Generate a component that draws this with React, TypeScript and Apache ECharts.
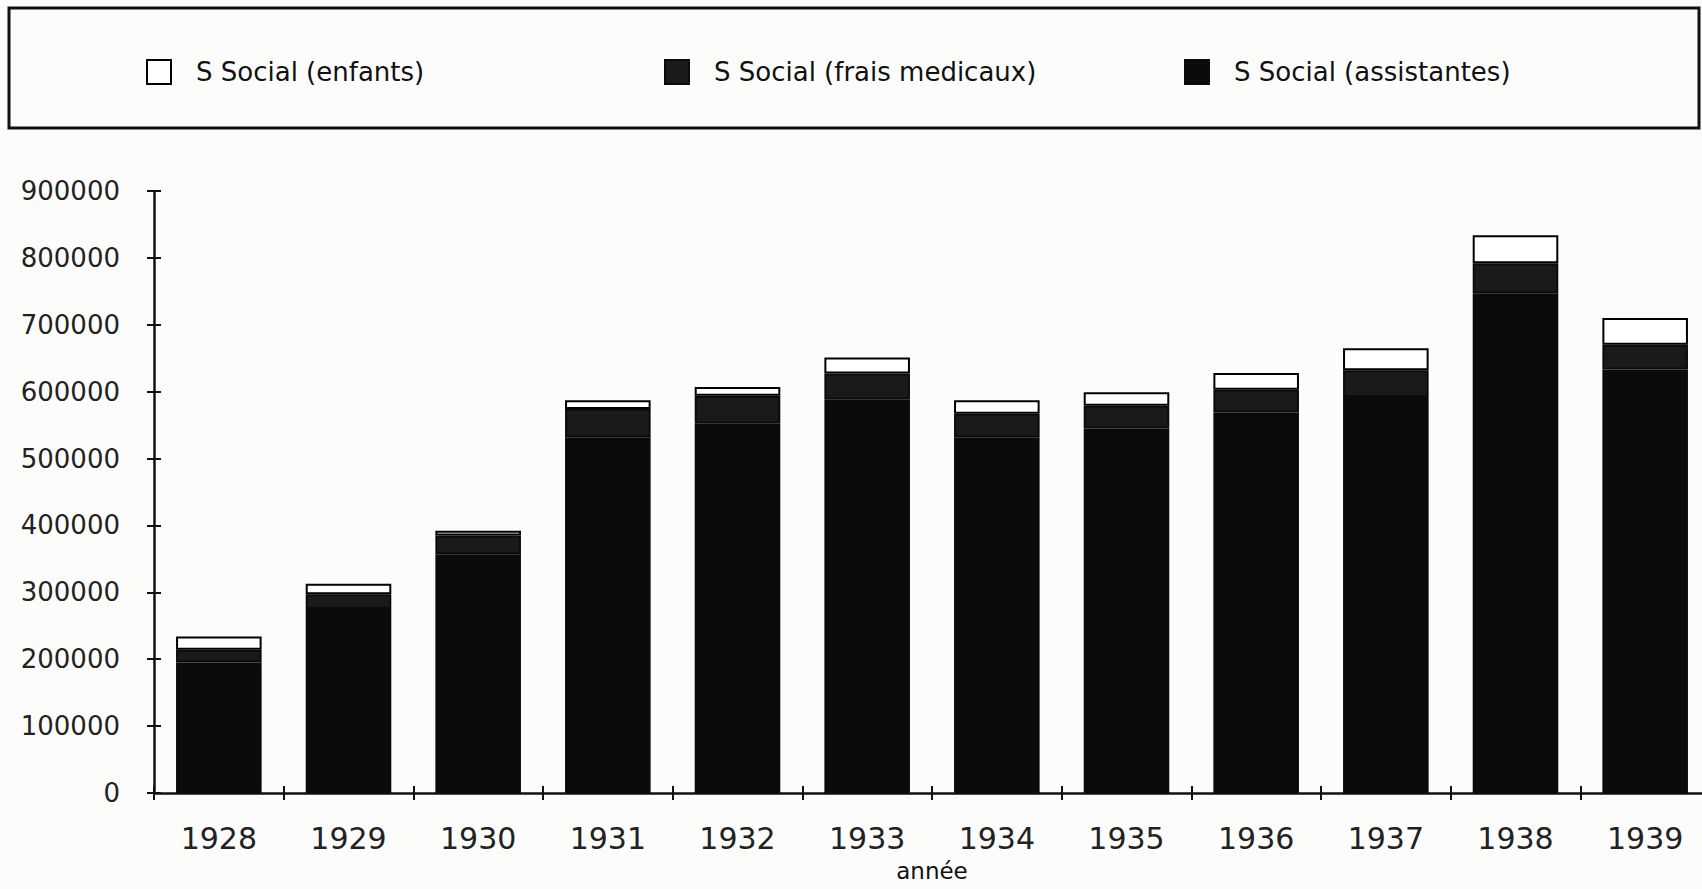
import React, { useEffect, useRef } from "react";
import * as echarts from "echarts";

const years = ["1928", "1929", "1930", "1931", "1932", "1933", "1934", "1935", "1936", "1937", "1938", "1939"];
const enfants = [20000, 16000, 7000, 13000, 13000, 24000, 20000, 20000, 25000, 33000, 42000, 40000];
const fraisMedicaux = [19000, 22000, 28000, 42000, 42000, 39000, 35000, 34000, 34000, 40000, 45000, 37000];
const assistantes = [195000, 275000, 357000, 532000, 552000, 588000, 532000, 545000, 569000, 592000, 747000, 633000];

const NAME_ENF = "S Social (enfants)";
const NAME_FRAIS = "S Social (frais medicaux)";
const NAME_ASS = "S Social (assistantes)";

const FONT = '"DejaVu Sans", Verdana, sans-serif';

export default function App() {
  const ref = useRef<HTMLDivElement>(null);
  useEffect(() => {
    if (!ref.current) return;
    const chart = echarts.init(ref.current, undefined, { renderer: "svg" });
    const legendCommon = {
      top: 54,
      itemWidth: 24,
      itemHeight: 24,
      icon: "rect",
      textStyle: { fontFamily: FONT, fontSize: 26, color: "#111", padding: [0, 0, 0, 20] },
    };
    const yBase = { type: "value", min: 0, max: 900000, interval: 100000 };
    chart.setOption({
      animation: false,
      backgroundColor: "#fcfdfb",
      legend: [
        { ...legendCommon, left: 141, data: [NAME_ENF] },
        { ...legendCommon, left: 659, data: [NAME_FRAIS] },
        { ...legendCommon, left: 1179, data: [NAME_ASS] },
      ],
      graphic: [
        {
          type: "rect",
          shape: { x: 9, y: 8, width: 1690, height: 120 },
          style: { fill: "none", stroke: "#111", lineWidth: 3 },
        },
      ],
      grid: {
        left: 154,
        top: 191,
        bottom: 96,
        right: -8,
        containLabel: false,
        outerBoundsMode: "none",
      },
      xAxis: [
        {
          type: "category",
          data: years,
          position: "bottom",
          name: "année",
          nameLocation: "middle",
          nameGap: 66,
          nameTextStyle: { fontFamily: FONT, fontSize: 23, color: "#111" },
          axisLine: { lineStyle: { color: "#111", width: 2.5 } },
          axisTick: { show: true, length: 7, lineStyle: { color: "#111", width: 2 } },
          axisLabel: { fontFamily: FONT, fontSize: 30, color: "#222", margin: 30 },
        },
        {
          type: "category",
          data: years,
          position: "bottom",
          axisLine: { show: false },
          axisTick: { show: true, inside: true, length: 7, lineStyle: { color: "#111", width: 2 } },
          axisLabel: { show: false },
        },
      ],
      yAxis: [
        {
          ...yBase,
          position: "left",
          axisLine: { show: true, lineStyle: { color: "#111", width: 2.5 } },
          axisTick: { show: true, length: 7, lineStyle: { color: "#111", width: 2 } },
          axisLabel: {
            fontFamily: FONT,
            fontSize: 26,
            color: "#222",
            margin: 34,
            formatter: (v: number) => String(v),
          },
          splitLine: { show: false },
        },
        {
          ...yBase,
          position: "left",
          axisLine: { show: false },
          axisTick: { show: true, inside: true, length: 7, lineStyle: { color: "#111", width: 2 } },
          axisLabel: { show: false },
          splitLine: { show: false },
        },
      ],
      series: [
        {
          name: NAME_ASS,
          type: "bar",
          stack: "total",
          data: assistantes,
          barCategoryGap: "34%",
          itemStyle: { color: "#0b0b0b", borderColor: "#0b0b0b", borderWidth: 2 },
        },
        {
          name: NAME_FRAIS,
          type: "bar",
          stack: "total",
          data: fraisMedicaux,
          barCategoryGap: "34%",
          itemStyle: { color: "#1a1a1a", borderColor: "#0b0b0b", borderWidth: 2 },
        },
        {
          name: NAME_ENF,
          type: "bar",
          stack: "total",
          data: enfants,
          barCategoryGap: "34%",
          itemStyle: { color: "#ffffff", borderColor: "#000", borderWidth: 2 },
        },
      ],
    });
    return () => chart.dispose();
  }, []);
  return (
    <div
      ref={ref}
      style={{ position: "fixed", left: 0, top: 0, width: 1702, height: 889 }}
    />
  );
}
